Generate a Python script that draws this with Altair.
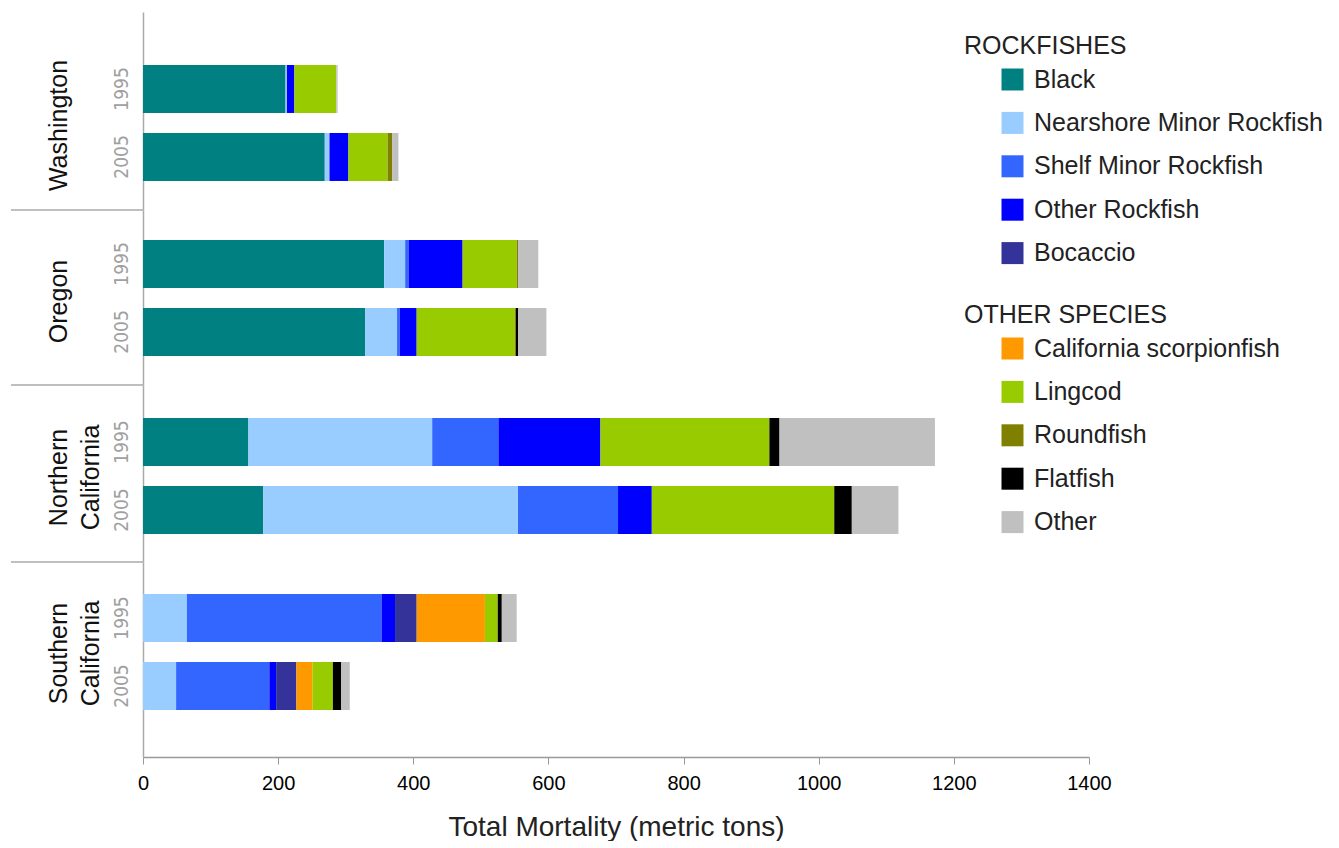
import altair as alt
import pandas as pd

# ---- data -----------------------------------------------------------------
regions = ["Washington", "Oregon", "Northern California", "Southern California"]
region_titles = [["Washington"], ["Oregon"], ["Northern", "California"], ["Southern", "California"]]
years = ["1995", "2005"]

rockfish_species = ["Black", "Nearshore Minor Rockfish", "Shelf Minor Rockfish",
                    "Other Rockfish", "Bocaccio"]
rockfish_colors = ["#008080", "#99ccff", "#3366ff", "#0000ff", "#333399"]
other_species = ["California scorpionfish", "Lingcod", "Roundfish", "Flatfish", "Other"]
other_colors = ["#ff9900", "#99cc00", "#808000", "#000000", "#c0c0c0"]

# total mortality (metric tons); order: WA 1995, WA 2005, OR 1995, OR 2005,
# N. CA 1995, N. CA 2005, S. CA 1995, S. CA 2005
black = [211, 269, 357, 329, 156, 178, 0, 0]
nearshore = [2, 7, 31, 47, 272, 377, 65, 49]
shelf = [0, 0, 5, 4, 98, 148, 288, 138]
other_rockfish = [11, 28, 80, 25, 151, 50, 20, 10]
bocaccio = [0, 0, 0, 0, 0, 0, 32, 30]
scorpionfish = [0, 0, 0, 0, 0, 0, 101, 24]
lingcod = [62, 58, 80, 145, 250, 270, 19, 30]
roundfish = [0, 7, 2, 2, 0, 0, 0, 0]
flatfish = [0, 0, 0, 3, 15, 26, 6, 12]
other = [2, 9, 30, 42, 230, 69, 22, 13]

series = [black, nearshore, shelf, other_rockfish, bocaccio,
          scorpionfish, lingcod, roundfish, flatfish, other]
species = rockfish_species + other_species

rows = []
for k, (region, year) in enumerate([(r, y) for r in regions for y in years]):
    for order, (name, vals) in enumerate(zip(species, series)):
        rows.append({
            "region": region, "year": year, "species": name, "order": order,
            "group": "rock" if name in rockfish_species else "other",
            "tons": vals[k],
        })
df = pd.DataFrame(rows)

# ---- layout ---------------------------------------------------------------
FONT = "Liberation Sans"
NARROW = "Liberation Sans Narrow, DejaVu Sans Condensed, Liberation Sans"
PLOT_W = 946
STEP = 68.0
BAR = 48.0
PAD_INNER = (STEP - BAR) / STEP
panel_heights = [198, 175, 177, 195]
panel_align = [0.646, 0.508, 0.541, 0.405]
title_y = [113, 91, 92, 91]

legend_common = dict(
    orient="none", symbolType="square", symbolSize=484, symbolStrokeWidth=0,
    symbolOffset=36, labelFont=FONT, labelFontSize=25, labelColor="#222222",
    labelOffset=9, labelLimit=500, titleFont=FONT, titleFontSize=25,
    titleFontWeight="normal", titleColor="#222222", titlePadding=8,
    titleLimit=500, rowPadding=17.4, padding=0,
)
rock_legend = alt.Legend(title="ROCKFISHES", legendX=821, legendY=22, **legend_common)
other_legend = alt.Legend(title="OTHER SPECIES", legendX=821, legendY=291, **legend_common)

x_axis = alt.Axis(
    values=[0, 200, 400, 600, 800, 1000, 1200, 1400], format="d",
    title="Total Mortality (metric tons)", grid=False, labelFlush=False,
    tickSize=7, tickColor="#999999", domainColor="#999999", domainWidth=1.5,
    labelFont=FONT, labelFontSize=20, labelColor="#000000", labelPadding=9,
    titleFont=FONT, titleFontSize=28, titleFontWeight="normal",
    titleColor="#222222", titlePadding=20,
)


def panel(i):
    region = regions[i]
    h = panel_heights[i]
    pad_outer = (h / STEP - (2 - PAD_INNER)) / 2
    base = (
        alt.Chart(df)
        .transform_filter(alt.datum.region == region)
        .transform_stack(stack="tons", groupby=["region", "year"], as_=["x0", "x1"],
                         sort=[alt.SortField("order", order="ascending")])
    )
    y = alt.Y(
        "year:N",
        scale=alt.Scale(domain=years, paddingInner=PAD_INNER,
                        paddingOuter=pad_outer, align=panel_align[i]),
        axis=alt.Axis(
            title=region_titles[i], titleX=-85, titleY=title_y[i], titleAngle=270,
            titleAlign="center", titleBaseline="middle", titleFont=FONT,
            titleFontSize=25, titleFontWeight="normal", titleColor="#111111",
            titleLineHeight=32,
            labelAngle=270, labelAlign="center", labelBaseline="middle",
            labelPadding=22, labelFont=NARROW, labelFontSize=19, labelColor="#a0a0a0",
            ticks=False, tickSize=0, grid=False,
            domainColor="#aaaaaa", domainWidth=1.5,
        ),
    )
    x = alt.X("x0:Q", scale=alt.Scale(domain=[0, 1400]),
              axis=x_axis if i == len(regions) - 1 else None)

    rock = base.transform_filter(alt.datum.group == "rock").mark_bar().encode(
        x=x, x2="x1:Q", y=y,
        color=alt.Color("species:N",
                        scale=alt.Scale(domain=rockfish_species, range=rockfish_colors),
                        legend=rock_legend),
    )
    others = base.transform_filter(alt.datum.group == "other").mark_bar().encode(
        x=x, x2="x1:Q", y=y,
        fill=alt.Fill("species:N",
                      scale=alt.Scale(domain=other_species, range=other_colors),
                      legend=other_legend),
    )
    layers = [rock, others]
    if i > 0:
        # divider between region groups, reaching across the label column
        layers.append(
            alt.Chart().mark_rule(color="#aaaaaa", strokeWidth=1.5).encode(
                x=alt.value(-132), x2=alt.value(0), y=alt.value(0))
        )
    return alt.layer(*layers).properties(width=PLOT_W, height=h)


chart = (
    alt.vconcat(*[panel(i) for i in range(len(regions))], spacing=0, bounds="flush")
    .resolve_scale(y="independent")
    .properties(padding={"left": 10, "top": 12, "right": 0, "bottom": 0})
    .configure(font=FONT)
    .configure_view(stroke=None)
)

chart.save("out.html", embed_options={"renderer": "svg", "actions": False})
